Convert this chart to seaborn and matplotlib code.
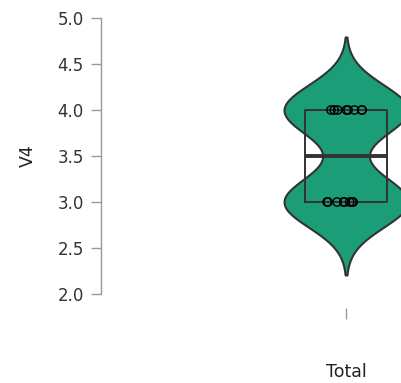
import numpy as np
import pandas as pd
import matplotlib
matplotlib.use("Agg")
import matplotlib.pyplot as plt
import seaborn as sns

# Responses for item V4 (all respondents grouped as "Total")
group = ["Total"] * 16
v4 = [4, 4, 4, 4, 4, 4, 4, 4,
      3, 3, 3, 3, 3, 3, 3, 3]
y_ticks = [2.0, 2.5, 3.0, 3.5, 4.0, 4.5, 5.0]

df = pd.DataFrame({"group": group, "V4": v4})

sns.set_style("white")
plt.rcParams["font.family"] = ["DejaVu Sans"]

fig = plt.figure(figsize=(4.02, 3.83), dpi=100)
ax = fig.add_axes([101 / 402, 1 - 294 / 383, 1 - 101 / 402, (294 - 18) / 383])

sns.violinplot(data=df, x="group", y="V4", ax=ax, color="#1b9e77", saturation=1,
               inner=None, cut=2.9, bw_method=0.53, width=0.8,
               linewidth=1.5, linecolor="#333333")
sns.boxplot(data=df, x="group", y="V4", ax=ax, fill=False, width=0.53,
            color="#333333", linewidth=1.4, showcaps=False, showfliers=False,
            medianprops={"linewidth": 2.8, "color": "#333333"},
            boxprops={"color": "#333333"}, whiskerprops={"color": "#333333"})
np.random.seed(3)
sns.stripplot(data=df, x="group", y="V4", ax=ax, jitter=0.13, size=6,
              color="black", linewidth=1.0, edgecolor="black")
ax.collections[-1].set_facecolor("none")

ax.set_xlim(-1.581, 0.361)
ax.set_ylim(2.0, 5.0)
ax.set_yticks(y_ticks)
ax.set_yticklabels([f"{t:.1f}" for t in y_ticks])

for side in ["top", "right", "bottom"]:
    ax.spines[side].set_visible(False)
ax.spines["left"].set_color("#999999")
ax.spines["left"].set_linewidth(1.0)
ax.spines["bottom"].set_position(("outward", 10))

ax.tick_params(axis="y", length=7.5, width=1.0, color="#999999",
               labelsize=12, labelcolor="#333333", pad=5, left=True)
ax.tick_params(axis="x", length=8, width=1.0, color="#999999",
               labelsize=12.5, labelcolor="#222222", pad=32, bottom=True)

ax.set_xlabel("")
ax.set_ylabel("V4", fontsize=12.5, color="#222222", labelpad=15)

fig.savefig("out.png", dpi=100)
